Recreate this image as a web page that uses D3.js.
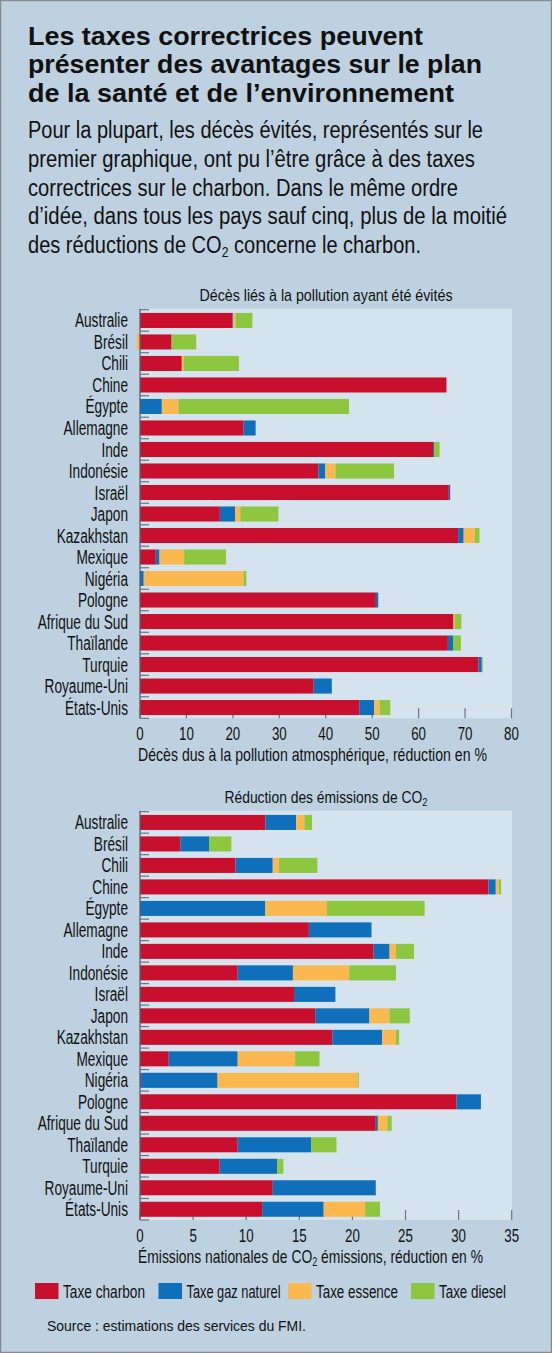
<!DOCTYPE html>
<html><head><meta charset="utf-8">
<script src="https://cdn.jsdelivr.net/npm/d3@7"></script>
<style>
html,body{margin:0;padding:0;background:#fff;}
svg{display:block;}
.nar{font-family:"Liberation Sans",Arial,sans-serif;}
</style></head>
<body>
<svg id="c" width="552" height="1353"></svg>
<script>
const countries = ["Australie","Brésil","Chili","Chine","Égypte","Allemagne","Inde","Indonésie","Israël","Japon","Kazakhstan","Mexique","Nigéria","Pologne","Afrique du Sud","Thaïlande","Turquie","Royaume-Uni","États-Unis"];
const seriesNames = ["Taxe charbon","Taxe gaz naturel","Taxe essence","Taxe diesel"];
const seriesColors = ["#c8102e","#0f6fba","#fbb84f","#8dc63f"];

// Décès liés à la pollution ayant été évités (% de réduction)
const deathsCoal     = [19.9, 6.8, 9.0, 66.0, 0,   22.3, 63.1, 38.4, 66.5, 17.2, 68.5, 3.4, 0,    50.8, 67.5, 66.3, 72.9, 37.4, 47.2];
const deathsGas      = [0.2,  0,   0,   0,    4.7, 2.6,  0.2,  1.5,  0.3,  3.3,  1.2,  0.8, 0.8,  0.5,  0,    1.1,  0.7,  3.9,  3.2];
const deathsGasoline = [0.5, -0.7, 0.4, 0,    3.6, 0,    0,    2.2,  0,    1.1,  2.4,  5.3, 21.5, 0,    0.3,  0,    0,    0,    1.2];
const deathsDiesel   = [3.6,  5.3, 11.9,0,    36.7,0,    1.2,  12.6, 0,    8.2,  1.0,  9.0, 0.6,  0,    1.4,  1.7,  0.2,  0,    2.3];
const deathsTicks = [0,10,20,30,40,50,60,70,80];

// Réduction des émissions de CO2 (%)
const co2Coal     = [11.8, 3.8, 9.0, 32.8, 0,    15.9, 22.0, 9.2, 14.5, 16.5, 18.1, 2.7, 0.1,  29.8, 22.2, 9.2, 7.5, 12.5, 11.5];
const co2Gas      = [2.9,  2.7, 3.5, 0.7,  11.8, 5.9,  1.5,  5.2, 3.9,  5.1,  4.7,  6.5, 7.2,  2.3,  0.2,  6.9, 5.4, 9.7,  5.8];
const co2Gasoline = [0.8,  0,   0.6, 0.3,  5.8,  0,    0.6,  5.3, 0,    1.9,  1.3,  5.4, 13.2, 0,    0.9,  0,   0,   0,    3.9];
const co2Diesel   = [0.7,  2.1, 3.6, 0.2,  9.2,  0,    1.7,  4.4, 0,    1.9,  0.3,  2.3, 0.1,  0,    0.4,  2.4, 0.6, 0,    1.4];
const co2Ticks = [0,5,10,15,20,25,30,35];

const svg = d3.select("#c");
const W = 552, H = 1353;
svg.append("rect").attr("x",0.5).attr("y",0.5).attr("width",W-1).attr("height",H-1)
  .attr("fill","#bdd1e1").attr("stroke","#858b92").attr("stroke-width",1.5);

// helpers: emulate a condensed face by narrowing glyphs
function condense(sel, f){
  sel.each(function(){
    const n = this.getComputedTextLength();
    this.setAttribute("textLength", (n*f).toFixed(2));
    this.setAttribute("lengthAdjust","spacingAndGlyphs");
  });
  return sel;
}
function fit(sel, w){
  sel.attr("textLength", w).attr("lengthAdjust","spacingAndGlyphs");
  return sel;
}

// Title
const titleLines = [
  {t:"Les taxes correctrices peuvent", y:45, w:395},
  {t:"présenter des avantages sur le plan", y:73.3, w:454},
  {t:"de la santé et de l’environnement", y:101.6, w:426}
];
titleLines.forEach(l=>{
  fit(svg.append("text").attr("x",28).attr("y",l.y)
    .attr("font-family","'Liberation Sans',Arial,sans-serif").attr("font-weight","bold")
    .attr("font-size",25.5).attr("fill","#111").text(l.t), l.w);
});
// Subtitle
const subLines = [
  {t:"Pour la plupart, les décès évités, représentés sur le", y:138.3, w:455},
  {t:"premier graphique, ont pu l’être grâce à des taxes", y:167, w:447},
  {t:"correctrices sur le charbon. Dans le même ordre", y:195.7, w:430},
  {t:"d’idée, dans tous les pays sauf cinq, plus de la moitié", y:224.4, w:479}
];
subLines.forEach(l=>{
  fit(svg.append("text").attr("class","nar").attr("x",28).attr("y",l.y)
    .attr("font-size",23).attr("fill","#111").text(l.t), l.w);
});
{
  const t = svg.append("text").attr("class","nar").attr("x",28).attr("y",253)
    .attr("font-size",23).attr("fill","#111");
  t.append("tspan").text("des réductions de CO");
  t.append("tspan").attr("font-size",14).attr("dy",4).text("2");
  t.append("tspan").attr("dy",-4).text(" concerne le charbon.");
  fit(t, 393);
}

function drawChart(opts){
  const {top, bottom, domainMax, ticks, series, title, axisTitle} = opts;
  const left = 140, right = opts.right;
  const x = d3.scaleLinear().domain([0, domainMax]).range([left, right]);
  const y = d3.scaleBand().domain(countries).range([top, bottom]).paddingInner(0.3).paddingOuter(0.15);
  const g = svg.append("g");
  g.append("rect").attr("x",left).attr("y",top-1).attr("width",512-left).attr("height",bottom-top+1)
    .attr("fill","#d5e3ee");
  g.selectAll("line.xt").data(ticks).join("line").attr("class","xt")
    .attr("x1",d=>x(d)).attr("x2",d=>x(d)).attr("y1",bottom-10).attr("y2",bottom)
    .attr("stroke","#6f747a").attr("stroke-width",1.2);
  const table = countries.map((c,i)=>{
    const o = {country:c};
    seriesNames.forEach((s,k)=>{o[s]=series[k][i];});
    return o;
  });
  const stack = d3.stack().keys(seriesNames).offset(d3.stackOffsetDiverging)(table);
  stack.forEach((layer,k)=>{
    g.selectAll(null).data(layer).join("rect")
      .attr("x",d=>x(Math.min(d[0],d[1])))
      .attr("width",d=>Math.abs(x(d[1])-x(d[0])))
      .attr("y",d=>y(d.data.country))
      .attr("height",y.bandwidth())
      .attr("fill",seriesColors[k]);
  });
  g.append("line").attr("x1",left).attr("x2",left).attr("y1",top-1).attr("y2",bottom)
    .attr("stroke","#5c6167").attr("stroke-width",1.3);
  const bounds = countries.map(c=>y(c)-y.step()*y.paddingInner()/2).concat([bottom]);
  g.selectAll("line.yb").data(bounds).join("line").attr("class","yb")
    .attr("x1",left).attr("x2",left+9).attr("y1",d=>d).attr("y2",d=>d)
    .attr("stroke","#6f747a").attr("stroke-width",1.2);
  condense(g.selectAll("text.cat").data(countries).join("text").attr("class","nar cat")
    .attr("x",128).attr("y",d=>y(d)+y.bandwidth()/2).attr("dy","0.36em")
    .attr("text-anchor","end").attr("font-size",19.5).attr("fill","#111").text(d=>d), 0.70);
  condense(g.selectAll("text.tl").data(ticks).join("text").attr("class","nar tl")
    .attr("x",d=>x(d)).attr("y",bottom+21.5).attr("text-anchor","middle")
    .attr("font-size",18.5).attr("fill","#111").text(d=>d), 0.72);
  const tt = g.append("text").attr("class","nar").attr("x",326).attr("y",top-8.5)
    .attr("text-anchor","middle").attr("font-size",17).attr("fill","#111");
  title(tt);
  fit(tt, opts.titleW);
  const at = g.append("text").attr("class","nar").attr("x",left-2).attr("y",bottom+43)
    .attr("font-size",19).attr("fill","#111");
  axisTitle(at);
  fit(at, opts.axisW);
}

drawChart({
  top:309.7, bottom:718.3, right:511.5, domainMax:80, ticks:deathsTicks,
  series:[deathsCoal,deathsGas,deathsGasoline,deathsDiesel],
  titleW:253, axisW:349,
  title:t=>t.text("Décès liés à la pollution ayant été évités"),
  axisTitle:t=>t.text("Décès dus à la pollution atmosphérique, réduction en %")
});
drawChart({
  top:811.7, bottom:1220, right:511.7, domainMax:35, ticks:co2Ticks,
  series:[co2Coal,co2Gas,co2Gasoline,co2Diesel],
  titleW:203, axisW:345,
  title:t=>{t.append("tspan").text("Réduction des émissions de CO");
            t.append("tspan").attr("font-size",11.5).attr("dy",3).text("2");},
  axisTitle:t=>{t.append("tspan").text("Émissions nationales de CO");
                t.append("tspan").attr("font-size",12.5).attr("dy",3).text("2");
                t.append("tspan").attr("dy",-3).text(" émissions, réduction en %");}
});

// Legend
const legX = [35,158.5,288,411];
const legW = [82, 94, 82, 67];
const leg = svg.append("g");
seriesNames.forEach((s,k)=>{
  leg.append("rect").attr("x",legX[k]).attr("y",1283).attr("width",23.5).attr("height",16)
    .attr("fill",seriesColors[k]);
  fit(leg.append("text").attr("class","nar").attr("x",legX[k]+28).attr("y",1297.5)
    .attr("font-size",17.5).attr("fill","#111").text(s), legW[k]);
});
fit(svg.append("text").attr("class","nar").attr("x",47).attr("y",1331)
  .attr("font-size",15).attr("fill","#111").text("Source : estimations des services du FMI."), 259);
</script>
</body></html>
